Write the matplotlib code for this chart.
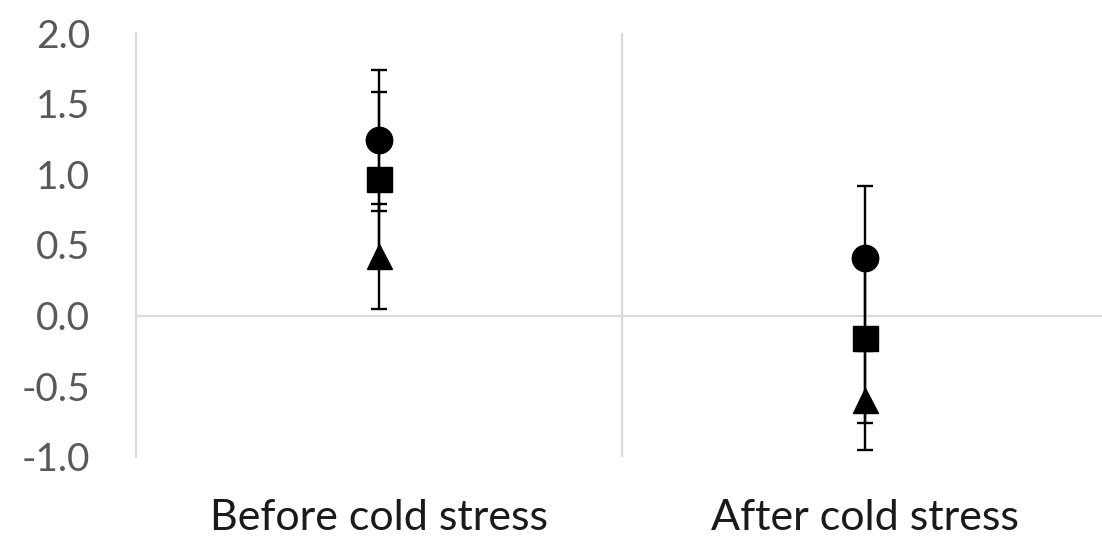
import matplotlib
matplotlib.use("Agg")

import matplotlib.pyplot as plt
import numpy as np

# ---------------------------------------------------------------------------
# DATA
# ---------------------------------------------------------------------------

categories = ["Before cold stress", "After cold stress"]

circle_vals = [1.24, 0.41]
circle_err = [0.50, 0.51]

square_vals = [0.97, -0.16]
square_err = [0.61, 0.60]

triangle_vals = [0.42, -0.60]
triangle_err = [0.37, 0.35]

yticks = [-1.0, -0.5, 0.0, 0.5, 1.0, 1.5, 2.0]

# ---------------------------------------------------------------------------
# PLOT
# ---------------------------------------------------------------------------

plt.rcParams["font.family"] = ["Lato", "DejaVu Sans"]

fig = plt.figure(figsize=(11.02, 5.41), dpi=100)
ax = fig.add_axes([0.1234, 0.1553, 0.882, 0.7837])

x = np.arange(len(categories)) + 0.5
grid_c = "#d9d9d9"

series = [
    (circle_vals, circle_err, "o", 19),
    (square_vals, square_err, "s", 18),
    (triangle_vals, triangle_err, "^", 18),
]
# error bars first, markers on top so they hide caps behind them
for vals, err, mk, ms in series:
    ax.errorbar(
        x, vals, yerr=err,
        fmt="none", ecolor="black", elinewidth=1.7,
        capsize=6, capthick=1.7, zorder=4,
    )
for vals, err, mk, ms in series:
    ax.plot(x, vals, linestyle="none", marker=mk, markersize=ms,
            color="black", zorder=6)

# category boundaries and zero line
for b in [1, 2]:
    ax.axvline(b, color=grid_c, linewidth=1.6, zorder=1)
ax.axhline(0, color=grid_c, linewidth=1.6, zorder=1)

ax.set_xlim(0, 2)
ax.set_ylim(-1.0, 2.0)
ax.set_yticks(yticks)
ax.set_yticklabels([f"{v:.1f}" for v in yticks])
ax.set_xticks(x)
ax.set_xticklabels(categories)

for side in ["top", "right", "bottom"]:
    ax.spines[side].set_visible(False)
ax.spines["left"].set_color(grid_c)
ax.spines["left"].set_linewidth(1.6)

ax.tick_params(axis="y", length=0, pad=33, labelsize=28, labelcolor="#595959")
ax.tick_params(axis="x", length=0, pad=30, labelsize=31, labelcolor="#1a1a1a")

fig.savefig("out.png", dpi=100)
plt.close(fig)
